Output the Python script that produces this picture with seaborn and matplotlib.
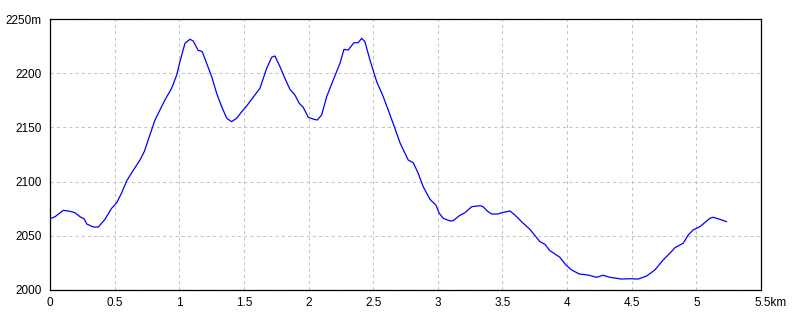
import matplotlib
matplotlib.use("Agg")
import matplotlib.pyplot as plt
import matplotlib.transforms as mtransforms
import seaborn as sns
import pandas as pd

distance_km = [0.008, 0.039, 0.103, 0.155, 0.193, 0.232, 0.265, 0.284, 0.335, 0.374,
               0.425, 0.477, 0.516, 0.555, 0.593, 0.632, 0.696, 0.729, 0.812, 0.889,
               0.941, 0.980, 1.005, 1.044, 1.083, 1.108, 1.147, 1.160, 1.178, 1.212,
               1.251, 1.289, 1.328, 1.367, 1.405, 1.444, 1.483, 1.521, 1.585, 1.624,
               1.676, 1.715, 1.740, 1.779, 1.817, 1.856, 1.895, 1.928, 1.959, 1.998,
               2.036, 2.067, 2.101, 2.140, 2.191, 2.243, 2.274, 2.307, 2.351, 2.384,
               2.411, 2.436, 2.475, 2.527, 2.578, 2.616, 2.671, 2.707, 2.771, 2.810,
               2.848, 2.887, 2.939, 2.985, 3.011, 3.042, 3.094, 3.119, 3.166, 3.210,
               3.261, 3.326, 3.351, 3.382, 3.416, 3.467, 3.493, 3.558, 3.596, 3.648,
               3.712, 3.790, 3.828, 3.867, 3.906, 3.944, 3.991, 4.035, 4.094, 4.163,
               4.228, 4.279, 4.331, 4.421, 4.486, 4.550, 4.615, 4.679, 4.743, 4.795,
               4.834, 4.898, 4.937, 4.975, 5.027, 5.104, 5.130, 5.182, 5.234]
elevation_m = [2066.1, 2067.6, 2073.5, 2072.6, 2071.3, 2067.6, 2065.5, 2060.9, 2058.1, 2058.1,
               2065.2, 2075.4, 2080.5, 2089.8, 2100.6, 2108.2, 2119.9, 2127.6, 2156.8, 2175.3,
               2186.1, 2198.3, 2210.6, 2227.6, 2231.3, 2229.7, 2220.8, 2220.8, 2219.8, 2209.1,
               2196.8, 2181.5, 2169.1, 2158.4, 2155.3, 2158.4, 2164.5, 2169.7, 2179.9, 2186.1,
               2204.5, 2214.7, 2215.9, 2206.0, 2195.3, 2185.1, 2179.9, 2172.2, 2168.5, 2159.3,
               2157.7, 2156.8, 2161.4, 2178.3, 2193.7, 2209.1, 2222.0, 2221.4, 2228.1, 2228.1,
               2232.2, 2229.1, 2212.2, 2192.2, 2178.3, 2166.1, 2148.2, 2135.9, 2119.9, 2117.4,
               2107.7, 2095.3, 2083.7, 2078.4, 2070.8, 2066.1, 2063.7, 2063.9, 2068.5, 2071.3,
               2076.8, 2077.8, 2076.8, 2072.9, 2070.1, 2070.1, 2071.3, 2072.9, 2069.2, 2063.0,
               2056.0, 2044.6, 2042.2, 2036.3, 2033.2, 2030.2, 2023.1, 2018.5, 2014.8, 2013.8,
               2011.7, 2013.6, 2011.7, 2010.1, 2010.4, 2010.1, 2012.9, 2018.5, 2027.7, 2033.9,
               2039.0, 2043.1, 2050.7, 2055.4, 2058.4, 2066.1, 2067.1, 2065.2, 2063.0]

x_ticks = [0, 0.5, 1, 1.5, 2, 2.5, 3, 3.5, 4, 4.5, 5, 5.5]
x_tick_labels = ["0", "0.5", "1", "1.5", "2", "2.5", "3", "3.5", "4", "4.5", "5", "5.5km"]
y_ticks = [2000, 2050, 2100, 2150, 2200, 2250]
y_tick_labels = ["2000", "2050", "2100", "2150", "2200", "2250m"]

sns.set_style("white")
plt.rcParams["font.family"] = ["Liberation Sans Narrow", "Liberation Sans", "DejaVu Sans"]

df = pd.DataFrame({"km": distance_km, "m": elevation_m})

fig = plt.figure(figsize=(8, 3.2), dpi=100)
ax = fig.add_axes([50 / 800, 1 - 290 / 320, 711 / 800, 271 / 320])

sns.lineplot(data=df, x="km", y="m", ax=ax, color="#0000ff", linewidth=0.9)

ax.set_xlim(0, 5.5)
ax.set_ylim(2000, 2250)
ax.set_xticks(x_ticks)
ax.set_xticklabels(x_tick_labels)
ax.set_yticks(y_ticks)
ax.set_yticklabels(y_tick_labels)
ax.set_xlabel("")
ax.set_ylabel("")

ax.grid(True, color="#c4c4c4", linestyle=(0, (3, 3)), linewidth=0.75)
ax.set_axisbelow(True)
for s in ax.spines.values():
    s.set_color("black")
    s.set_linewidth(0.9)
    s.set_visible(True)

ax.tick_params(axis="both", length=0, labelsize=8.5, colors="black")
ax.tick_params(axis="x", pad=5)
ax.tick_params(axis="y", pad=6)

last = ax.get_xticklabels()[-1]
last.set_horizontalalignment("left")
last.set_transform(last.get_transform() + mtransforms.ScaledTranslation(-7 / 100, 0, fig.dpi_scale_trans))

fig.savefig("out.png", dpi=100, facecolor="white")
